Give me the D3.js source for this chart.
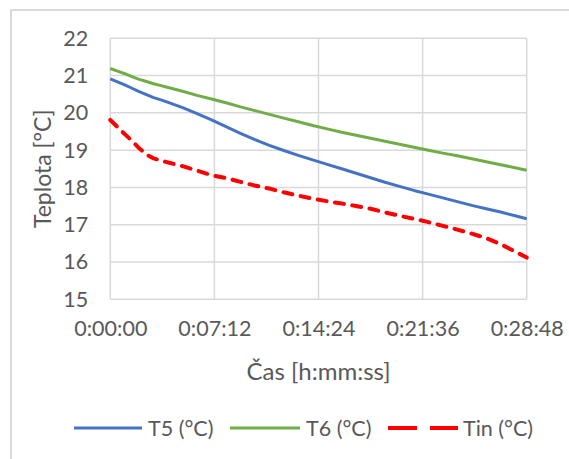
<!DOCTYPE html>
<html><head><meta charset="utf-8">
<script src="https://cdn.jsdelivr.net/npm/d3@7"></script>
<style>
html,body{margin:0;padding:0;background:#fff;}
svg{display:block;font-family:Lato, "Open Sans", sans-serif;}
</style></head>
<body>
<script>
// time in minutes
const timesMin = [0,0.5,1,1.5,2,2.5,3,3.5,4,5,6,7,8,9,10,11,12,13,14,15,16,17,18,19,20,21,22,23,24,25,26,27,28,28.8];
const t5 = [20.91,20.83,20.75,20.66,20.57,20.49,20.41,20.35,20.28,20.14,19.98,19.81,19.63,19.45,19.28,19.13,18.99,18.86,18.74,18.62,18.50,18.38,18.26,18.14,18.03,17.92,17.82,17.72,17.62,17.52,17.43,17.34,17.24,17.16];
const t6 = [21.19,21.12,21.05,20.97,20.90,20.84,20.78,20.73,20.68,20.58,20.47,20.37,20.27,20.16,20.06,19.96,19.86,19.76,19.66,19.57,19.48,19.40,19.32,19.24,19.16,19.08,19.00,18.92,18.85,18.77,18.69,18.61,18.53,18.46];
const tin = [19.81,19.62,19.43,19.25,19.05,18.88,18.78,18.72,18.67,18.57,18.45,18.33,18.25,18.15,18.05,17.97,17.87,17.78,17.70,17.63,17.57,17.50,17.43,17.33,17.24,17.16,17.07,16.97,16.87,16.76,16.64,16.48,16.28,16.12];
const seriesNames = ["T5 (°C)","T6 (°C)","Tin (°C)"];
const xTickSeconds = [0,432,864,1296,1728];
const yTicks = [15,16,17,18,19,20,21,22];

const W=569,H=459;
const m={left:110.3,right:526.7,top:38.3,bottom:299.3};
const svg=d3.select("body").append("svg").attr("width",W).attr("height",H);
const textColor="#595959", gridColor="#d9d9d9", fs=21.5;

// chart border
svg.append("rect").attr("x",11).attr("y",10).attr("width",700).attr("height",600)
  .attr("fill","none").attr("stroke",gridColor).attr("stroke-width",2);

const x=d3.scaleLinear().domain([0,1728]).range([m.left,m.right]);
const y=d3.scaleLinear().domain([15,22]).range([m.bottom,m.top]);

function fmt(s){const h=Math.floor(s/3600),mm=Math.floor((s%3600)/60),ss=s%60;
  return h+":"+String(mm).padStart(2,"0")+":"+String(ss).padStart(2,"0");}

// grid
svg.append("g").selectAll("line").data(yTicks).join("line")
  .attr("x1",m.left).attr("x2",m.right).attr("y1",d=>y(d)).attr("y2",d=>y(d))
  .attr("stroke",gridColor).attr("stroke-width",1.5);
svg.append("g").selectAll("line").data(xTickSeconds).join("line")
  .attr("y1",m.top).attr("y2",m.bottom).attr("x1",d=>x(d)).attr("x2",d=>x(d))
  .attr("stroke",gridColor).attr("stroke-width",1.5);

// axes (labels only)
const yAxis=d3.axisLeft(y).tickValues(yTicks).tickFormat(d3.format("d")).tickSize(0).tickPadding(22);
const gy=svg.append("g").attr("transform",`translate(${m.left},0)`).call(yAxis);
const xAxis=d3.axisBottom(x).tickValues(xTickSeconds).tickFormat(fmt).tickSize(0).tickPadding(21);
const gx=svg.append("g").attr("transform",`translate(0,${m.bottom})`).call(xAxis);
[gx,gy].forEach(g=>{g.select(".domain").remove();
  g.selectAll("text").attr("fill",textColor).style("font-size",fs+"px").style("font-family","Lato, sans-serif");});

// axis titles
svg.append("text").attr("x",(m.left+m.right)/2).attr("y",380).attr("text-anchor","middle")
  .attr("fill",textColor).style("font-size","24px").text("Čas [h:mm:ss]");
svg.append("text").attr("transform",`translate(51,${(m.top+m.bottom)/2}) rotate(-90)`)
  .attr("text-anchor","middle").attr("fill",textColor).style("font-size","23px").text("Teplota [°C]");

// lines
const line=d3.line().x((d,i)=>x(timesMin[i]*60)).y(d=>y(d));
const series=[
  {name:seriesNames[0],vals:t5,color:"#4472C4",dash:null},
  {name:seriesNames[1],vals:t6,color:"#70AD47",dash:null},
  {name:seriesNames[2],vals:tin,color:"#FF0000",dash:"9,8.5"}
];
series.forEach(s=>{
  svg.append("path").datum(s.vals).attr("d",line).attr("fill","none")
    .attr("stroke",s.color).attr("stroke-width",s.dash?4:3)
    .attr("stroke-linecap",s.dash?"round":"butt").attr("stroke-linejoin","round")
    .attr("stroke-dasharray",s.dash);
});

// legend
const legY=428;
const leg=[{x1:74,x2:142,tx:148},{x1:230,x2:300,tx:306},{x1:388,x2:458,tx:463}];
series.forEach((s,i)=>{
  const L=leg[i];
  svg.append("line").attr("x1",L.x1).attr("x2",L.x2).attr("y1",legY).attr("y2",legY)
    .attr("stroke",s.color).attr("stroke-width",s.dash?4:3)
    .attr("stroke-dasharray",s.dash?"29,13":null);
  svg.append("text").attr("x",L.tx).attr("y",legY).attr("dy","0.35em")
    .attr("fill",textColor).style("font-size",fs+"px").text(s.name);
});
</script>
</body></html>
